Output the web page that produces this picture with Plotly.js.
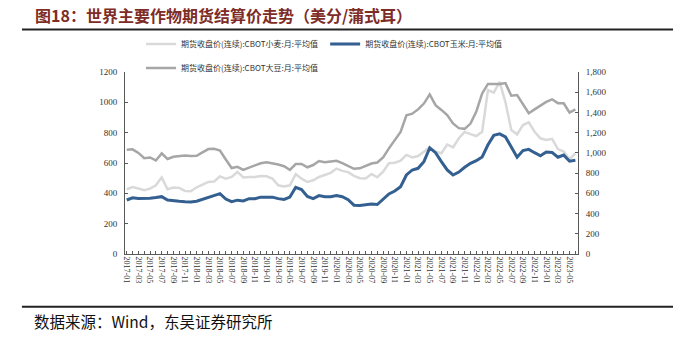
<!DOCTYPE html>
<html><head><meta charset="utf-8">
<script src="https://cdn.plot.ly/plotly-3.0.1.min.js"></script>
<style>body{margin:0;background:#fff}#chart{width:673px;height:337px}</style>
</head><body><div id="chart"></div>
<script>
const months = [
'2017-01','2017-02','2017-03','2017-04','2017-05','2017-06','2017-07','2017-08','2017-09','2017-10','2017-11','2017-12',
'2018-01','2018-02','2018-03','2018-04','2018-05','2018-06','2018-07','2018-08','2018-09','2018-10','2018-11','2018-12',
'2019-01','2019-02','2019-03','2019-04','2019-05','2019-06','2019-07','2019-08','2019-09','2019-10','2019-11','2019-12',
'2020-01','2020-02','2020-03','2020-04','2020-05','2020-06','2020-07','2020-08','2020-09','2020-10','2020-11','2020-12',
'2021-01','2021-02','2021-03','2021-04','2021-05','2021-06','2021-07','2021-08','2021-09','2021-10','2021-11','2021-12',
'2022-01','2022-02','2022-03','2022-04','2022-05','2022-06','2022-07','2022-08','2022-09','2022-10','2022-11','2022-12',
'2023-01','2023-02','2023-03','2023-04','2023-05','2023-06'];

// CBOT wheat (left axis, US cents/bushel)
const wheat = [427,441,432,420,431,453,505,427,438,436,416,414,
 440,460,475,478,512,497,508,541,505,508,508,514,
 512,497,453,446,453,527,497,475,486,508,519,535,
 563,548,540,515,500,498,527,506,543,598,602,615,
 653,637,646,675,703,675,664,722,703,763,805,790,
 778,806,1081,1064,1135,1000,817,789,850,868,806,763,
 752,759,692,675,624,664];

// CBOT corn (left axis)
const corn = [356,371,366,366,368,372,378,356,350,348,345,343,
 348,360,375,385,398,362,345,355,350,365,365,375,
 375,375,365,360,375,440,425,380,365,385,378,378,
 385,378,358,322,320,323,330,326,362,396,415,444,
 521,554,565,609,700,668,609,554,521,540,572,598,
 615,640,720,782,792,772,705,638,682,690,668,648,
 672,670,638,652,612,618];

// CBOT soybean (right axis)
const soybean = [1030,1035,1000,948,955,925,995,940,962,970,975,970,
 972,1005,1038,1040,1022,935,850,862,832,855,880,897,
 907,897,885,868,832,890,890,858,880,920,908,915,
 922,898,870,843,847,868,895,905,955,1045,1125,1208,
 1372,1388,1430,1488,1578,1472,1425,1375,1292,1245,1238,1290,
 1410,1588,1682,1682,1682,1690,1565,1572,1475,1392,1430,1472,
 1505,1530,1492,1490,1398,1430];

const seriesNames = ['期货收盘价(连续):CBOT小麦:月:平均值','期货收盘价(连续):CBOT玉米:月:平均值','期货收盘价(连续):CBOT大豆:月:平均值'];

const xs = months.map((m, i) => i);
const tickText = months.map((m, i) => (i % 2 === 0 ? m : ''));

const traces = [
  {x: xs, y: wheat, name: seriesNames[0], type: 'scatter', mode: 'lines', line: {color: '#d9d9d9', width: 2.5}, yaxis: 'y', legend: 'legend'},
  {x: xs, y: corn, name: seriesNames[1], type: 'scatter', mode: 'lines', line: {color: '#335f91', width: 3}, yaxis: 'y', legend: 'legend2'},
  {x: xs, y: soybean, name: seriesNames[2], type: 'scatter', mode: 'lines', line: {color: '#a6a6a6', width: 2.5}, yaxis: 'y2', legend: 'legend3'}
];

const tickFont = {family: 'Liberation Serif, Times New Roman, serif', size: 9, color: '#333'};
const legFont = {family: 'Noto Sans CJK SC, sans-serif', size: 8, color: '#333'};
const legBase = {orientation: 'v', xanchor: 'left', yanchor: 'middle', bgcolor: 'rgba(0,0,0,0)', borderwidth: 0, font: legFont};

const layout = {
  width: 673, height: 337,
  margin: {l: 125, r: 95, t: 72, b: 83},
  paper_bgcolor: '#fff', plot_bgcolor: '#fff',
  showlegend: true,
  xaxis: {
    range: [-0.3, 77.45], tickmode: 'array', tickvals: xs, ticktext: tickText,
    tickangle: 90, tickfont: {family: 'Liberation Serif, Times New Roman, serif', size: 8, color: '#333'},
    showline: true, linecolor: '#595959', linewidth: 1, ticks: 'inside', ticklen: 3, tickcolor: '#595959',
    showgrid: false, zeroline: false, fixedrange: true
  },
  yaxis: {
    range: [0, 1200], dtick: 200, tickfont: tickFont,
    showline: true, linecolor: '#595959', linewidth: 1, ticks: 'inside', ticklen: 3, tickcolor: '#595959',
    showgrid: false, zeroline: false, ticklabelstandoff: 5
  },
  yaxis2: {
    range: [0, 1800], dtick: 200, tickformat: ',d', overlaying: 'y', side: 'right', tickfont: tickFont,
    showline: true, linecolor: '#595959', linewidth: 1, ticks: 'inside', ticklen: 3, tickcolor: '#595959',
    showgrid: false, zeroline: false, ticklabelstandoff: 5
  },
  legend: Object.assign({}, legBase, {x: 0.0353, y: 1.154}),
  legend2: Object.assign({}, legBase, {x: 0.4418, y: 1.154}),
  legend3: Object.assign({}, legBase, {x: 0.0353, y: 1.022}),
  annotations: [
    {text: '<b>图18：世界主要作物期货结算价走势（美分/蒲式耳）</b>', xref: 'paper', yref: 'paper', x: -0.2032, y: 1.3132,
     xanchor: 'left', yanchor: 'middle', showarrow: false,
     font: {family: 'Noto Sans CJK SC, sans-serif', size: 16, color: '#7e2c26'}},
    {text: '数据来源：Wind，东吴证券研究所', xref: 'paper', yref: 'paper', x: -0.2054, y: -0.368,
     xanchor: 'left', yanchor: 'middle', showarrow: false,
     font: {family: 'Noto Sans CJK SC, sans-serif', size: 15.5, color: '#111'}}
  ],
  shapes: [
    {type: 'line', xref: 'paper', yref: 'paper', x0: -0.2275, x1: 1.2105, y0: 1.2335, y1: 1.2335, line: {color: '#222', width: 2}},
    {type: 'line', xref: 'paper', yref: 'paper', x0: -0.2275, x1: 1.2105, y0: -0.290, y1: -0.290, line: {color: '#222', width: 2}}
  ]
};

Plotly.newPlot('chart', traces, layout, {staticPlot: true, displayModeBar: false});
</script>
</body></html>
